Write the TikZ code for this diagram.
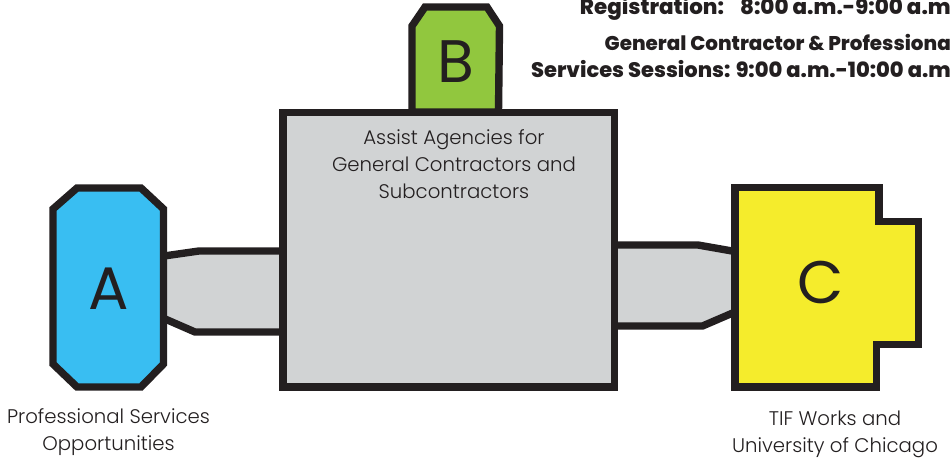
\documentclass[tikz,border=0pt]{standalone}
\usepackage{fontspec}
\setmainfont{Poppins}[UprightFont=* Light,BoldFont=* ExtraBold]
\newfontfamily\lettersfont{Poppins}
\definecolor{ink}{HTML}{231F20}
\definecolor{panel}{HTML}{D1D3D4}
\definecolor{blueA}{HTML}{39BEF2}
\definecolor{greenB}{HTML}{91C73E}
\definecolor{yellowC}{HTML}{F5EC2C}
\tikzset{
  blockshape/.style={draw=ink,line width=7.4pt,miter limit=10,line join=miter},
  linkfill/.style={fill=panel,draw=none},
  linkedge/.style={draw=ink,line width=7.4pt,line join=miter},
  bigletter/.style={font=\lettersfont\fontsize{60}{60}\selectfont,text=ink,inner sep=0pt,anchor=base},
  caption/.style={font=\fontsize{19.7}{27}\selectfont,text=ink,align=center,inner sep=0pt},
  heading/.style={font=\bfseries\fontsize{#1}{28}\selectfont,text=ink,inner sep=0pt,anchor=base east},
}
\begin{document}
\begin{tikzpicture}[x=1pt,y=-1pt]
\useasboundingbox (0,0) rectangle (951,464);
% left link
\path[linkfill] (160,256) -- (199,251) -- (283,251) -- (283,332) -- (195,332) -- (160,317) -- cycle;
\draw[linkedge] (164,256) -- (199,251) -- (283,251);
\draw[linkedge] (164,318.5) -- (195,332) -- (283,332);
% right link
\path[linkfill] (614,245) -- (698,245) -- (738,252) -- (738,311) -- (702.5,326) -- (614,326) -- cycle;
\draw[linkedge] (614,245) -- (698,245) -- (735,251.5);
\draw[linkedge] (614,326) -- (702.5,326) -- (735,312);
% blocks
\draw[blockshape,fill=greenB] (412,112) -- (412,26) -- (425,7) -- (487,7) -- (499.5,26) -- (498.5,112) -- cycle;
\draw[blockshape,fill=panel] (283,112.5) -- (614.5,112.5) -- (614.5,387) -- (283,387) -- cycle;
\draw[blockshape,fill=blueA] (53,209) -- (77,188) -- (141,188) -- (163.5,209) -- (163.5,364) -- (141,387) -- (77,387) -- (53,364) -- cycle;
\draw[blockshape,fill=yellowC] (735,187.7) -- (879,187.7) -- (879,221.7) -- (918.7,221.7) -- (918.7,344.5) -- (876.5,344.5) -- (876.5,387) -- (735,387) -- cycle;
% letters
\node[bigletter] (lettera) at (109,309) {A};
\node[bigletter] (letterb) at (456,82) {B};
\node[bigletter] (letterc) at (820.5,303) {C};
% captions
\node[caption] (maintext) at (454,164) {Assist Agencies for\\General Contractors and\\Subcontractors};
\node[caption] (alabel) at (108.5,432) {Professional Services\\Opportunities};
\node[caption] (clabel) at (835,434) {TIF Works and\\University of Chicago};
% heading
\node[heading=21.4] (reg) at (951,14) {Registration:\hspace{16pt}8:00 a.m.-9:00 a.m};
\node[heading=19.9] (gen) at (951,50.5) {General Contractor \& Professiona};
\node[heading=21] (ses) at (951,77.5) {Services Sessions: 9:00 a.m.-10:00 a.m};
\end{tikzpicture}
\end{document}
